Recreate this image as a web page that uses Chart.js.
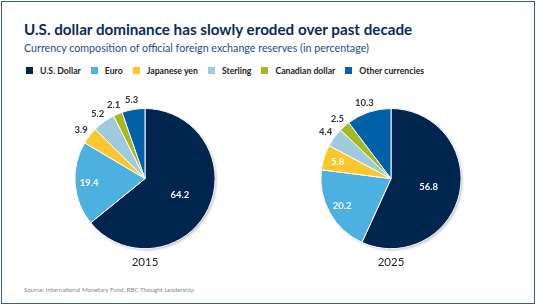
<!DOCTYPE html>
<html>
<head>
<meta charset="utf-8">
<script src="https://cdn.jsdelivr.net/npm/chart.js@4"></script>
<style>
  html, body { margin: 0; padding: 0; background: #fff; }
  body { width: 538px; height: 306px; position: relative; overflow: hidden; font-family: "Lato", sans-serif; }
  .frame { position: absolute; left: 1px; top: 1px; width: 532px; height: 301px; border: 1.5px solid #3d5a96; }
  h1 { position: absolute; left: 24px; top: 20px; margin: 0; font-size: 15.2px; font-weight: 700; color: #0b2a5b; white-space: nowrap; }
  .sub { position: absolute; left: 24px; top: 41px; margin: 0; font-size: 10.7px; color: #1f4d8c; white-space: nowrap; }
  #legend { position: absolute; left: 26px; top: 65px; display: flex; font-size: 8.7px; font-weight: 700; color: #222; white-space: nowrap; }
  #legend span.item { display: flex; align-items: center; margin-right: 10px; }
  #legend i { display: inline-block; width: 7px; height: 7px; margin-right: 7px; }
  .src { position: absolute; left: 24px; top: 286px; font-size: 6.2px; color: #888; white-space: nowrap; }
  canvas { position: absolute; }
</style>
</head>
<body>
<div class="frame"></div>
<h1>U.S. dollar dominance has slowly eroded over past decade</h1>
<p class="sub">Currency composition of official foreign exchange reserves (in percentage)</p>
<div id="legend"></div>
<div style="position:absolute;left:35px;top:88px;width:220px;height:190px"><canvas id="pie2015"></canvas></div>
<div style="position:absolute;left:281px;top:88px;width:220px;height:190px"><canvas id="pie2025"></canvas></div>
<div class="src">Source: International Monetary Fund, RBC Thought Leadership</div>
<script>
const currencies = ["U.S. Dollar", "Euro", "Japanese yen", "Sterling", "Canadian dollar", "Other currencies"];
const years = ["2015", "2025"];
const shares2015 = [64.2, 19.4, 3.9, 5.2, 2.1, 5.3];
const shares2025 = [56.8, 20.2, 5.8, 4.4, 2.5, 10.3];
const colors = ["#00264f", "#4cb1e1", "#ffc72c", "#9ecbdc", "#a8b820", "#0061a9"];

// legend
const legend = document.getElementById("legend");
currencies.forEach(function(name, i) {
    const item = document.createElement("span");
    item.className = "item";
    item.innerHTML = '<i style="background:' + colors[i] + '"></i>' + name;
    legend.appendChild(item);
});

// soft shadow behind the pie
const pieShadow = {
    id: "pieShadow",
    beforeDatasetsDraw(chart) {
        const arc = chart.getDatasetMeta(0).data[0];
        if (!arc) return;
        const ctx = chart.ctx;
        ctx.save();
        ctx.shadowColor = "rgba(0,0,0,0.3)";
        ctx.shadowBlur = 3;
        ctx.shadowOffsetX = 1.5;
        ctx.shadowOffsetY = 1.5;
        ctx.beginPath();
        ctx.arc(arc.x, arc.y, arc.outerRadius - 0.5, 0, Math.PI * 2);
        ctx.fillStyle = "#fff";
        ctx.fill();
        ctx.restore();
    }
};

// value labels: inside for big slices, outside for small ones or near the top
const sliceLabels = {
    id: "sliceLabels",
    afterDatasetsDraw(chart) {
        const ctx = chart.ctx;
        const values = chart.data.datasets[0].data;
        ctx.save();
        ctx.font = "bold 9.5px Lato, sans-serif";
        ctx.textBaseline = "middle";
        ctx.textAlign = "center";
        chart.getDatasetMeta(0).data.forEach(function(arc, i) {
            const v = values[i];
            const mid = (arc.startAngle + arc.endAngle) / 2;
            const dx = Math.cos(mid), dy = Math.sin(mid);
            const r = arc.outerRadius;
            const txt = v.toFixed(1);
            const nearTop = Math.abs(mid + Math.PI / 2) < Math.PI / 8 || Math.abs(mid - 1.5 * Math.PI) < Math.PI / 8;
            let x, y;
            if (v >= 5.5 && !nearTop) {
                const k = v > 40 ? 0.55 : 0.8;
                x = arc.x + dx * r * k;
                y = arc.y + dy * r * k;
                ctx.fillStyle = "#fff";
            } else {
                const w = ctx.measureText(txt).width;
                x = arc.x + dx * (r + 4) + dx * w / 2;
                y = arc.y + dy * (r + 4) + dy * 6;
                ctx.fillStyle = "#333";
            }
            ctx.fillText(txt, x, y);
        });
        ctx.restore();
    }
};

function makePie(id, year, values) {
    new Chart(document.getElementById(id).getContext("2d"), {
        type: "pie",
        data: {
            labels: currencies,
            datasets: [{
                data: values,
                backgroundColor: colors,
                borderColor: "#fff",
                borderWidth: 1
            }]
        },
        options: {
            responsive: true,
            maintainAspectRatio: false,
            animation: false,
            layout: { padding: { top: 20, left: 10, right: 10, bottom: 3 } },
            plugins: {
                legend: { display: false },
                tooltip: { enabled: false },
                title: {
                    display: true,
                    text: year,
                    position: "bottom",
                    color: "#222",
                    font: { size: 11.5, family: "Lato, sans-serif", weight: "normal" },
                    padding: { top: 6, bottom: 6 }
                }
            }
        },
        plugins: [pieShadow, sliceLabels]
    });
}

makePie("pie2015", years[0], shares2015);
makePie("pie2025", years[1], shares2025);
</script>
</body>
</html>
